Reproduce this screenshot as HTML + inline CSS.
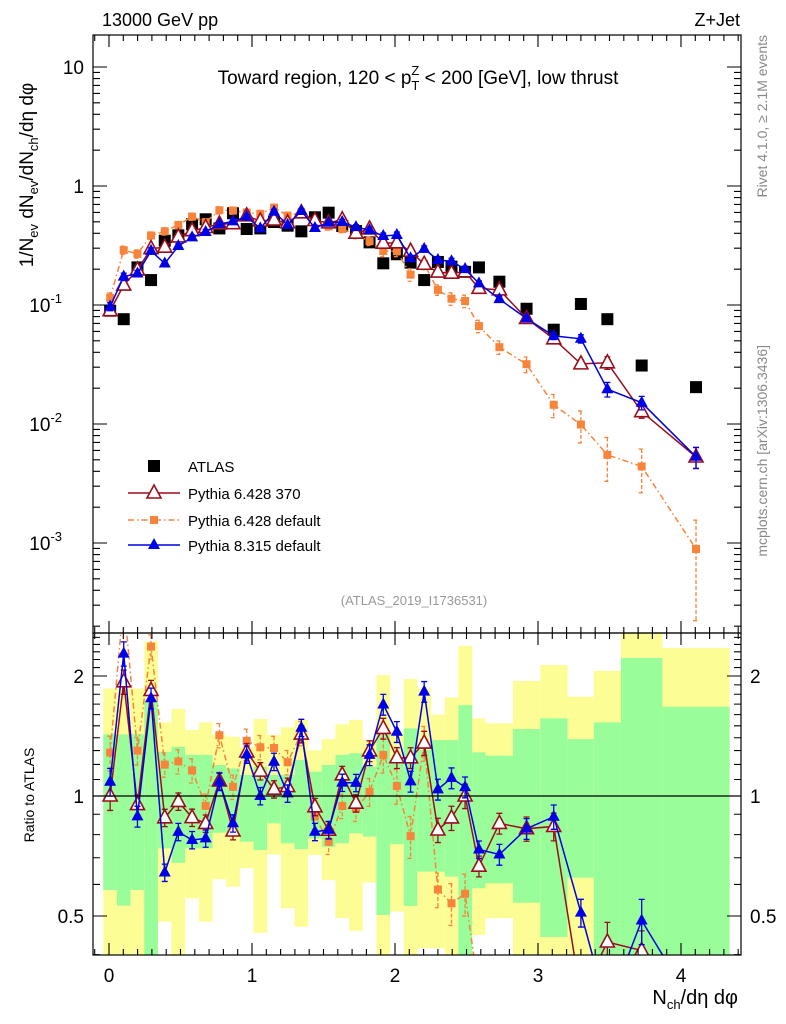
<!DOCTYPE html>
<html><head><meta charset="utf-8"><style>
html,body{margin:0;padding:0;background:#fff;width:786px;height:1024px;overflow:hidden;}
svg{display:block;font-family:"Liberation Sans",sans-serif;}
</style></head><body>
<svg id="chart" width="786" height="1024" viewBox="0 0 786 1024" xmlns="http://www.w3.org/2000/svg">
<defs>
<clipPath id="clipMain"><rect x="93" y="35" width="648" height="598"/></clipPath>
<clipPath id="clipRatio"><rect x="93" y="633" width="648" height="322"/></clipPath>
</defs>
<g id="bands" clip-path="url(#clipRatio)"></g>
<g id="ratioMarks" clip-path="url(#clipRatio)"></g>
<g id="mainMarks" clip-path="url(#clipMain)"></g>
<g id="axes"></g>
<rect x="93" y="35" width="648" height="598" fill="none" stroke="#000" stroke-width="1.2"/>
<rect x="93" y="633" width="648" height="322" fill="none" stroke="#000" stroke-width="1.2"/>
<line x1="93" x2="741" y1="796" y2="796" stroke="#000" stroke-width="1.2"/>
<text x="102" y="26" font-size="18">13000 GeV pp</text>
<text x="740" y="26" font-size="18" text-anchor="end">Z+Jet</text>
<text x="418" y="84" font-size="19" text-anchor="middle">Toward region, 120 &lt; p<tspan font-size="13" dy="6">T</tspan><tspan font-size="13" dx="-8" dy="-15">Z</tspan><tspan dy="9"> &lt; 200 [GeV], low thrust</tspan></text>
<text transform="translate(33,175) rotate(-90)" font-size="19" text-anchor="middle">1/N<tspan font-size="13" dy="5">ev</tspan><tspan dy="-5"> dN</tspan><tspan font-size="13" dy="5">ev</tspan><tspan dy="-5">/dN</tspan><tspan font-size="13" dy="5">ch</tspan><tspan dy="-5">/dη dφ</tspan></text>
<text transform="translate(34,795) rotate(-90)" font-size="14" text-anchor="middle">Ratio to ATLAS</text>
<text x="738" y="1004" font-size="20" text-anchor="end">N<tspan font-size="13" dy="5">ch</tspan><tspan dy="-5">/dη dφ</tspan></text>
<text transform="translate(767,35) rotate(-90)" font-size="14" fill="#888" text-anchor="end">Rivet 4.1.0, ≥ 2.1M events</text>
<text transform="translate(767,345) rotate(-90)" font-size="14" fill="#888" text-anchor="end">mcplots.cern.ch [arXiv:1306.3436]</text>
<text x="414" y="605" font-size="13" fill="#999" text-anchor="middle">(ATLAS_2019_I1736531)</text>
<g id="legend">
<rect x="148" y="460" width="12" height="12" fill="#000"/>
<text x="188" y="472" font-size="15">ATLAS</text>
<line x1="128" x2="180" y1="493" y2="493" stroke="#9b0d1e" stroke-width="1.5"/>
<polygon points="154,485 161,498 147,498" fill="#fff" stroke="#9b0d1e" stroke-width="1.6"/>
<text x="188" y="499" font-size="15">Pythia 6.428 370</text>
<line x1="128" x2="180" y1="520" y2="520" stroke="#f7843a" stroke-width="1.5" stroke-dasharray="6,3,1.5,3"/>
<rect x="150" y="516" width="8" height="8" fill="#f7843a"/>
<text x="188" y="526" font-size="15">Pythia 6.428 default</text>
<line x1="128" x2="180" y1="545" y2="545" stroke="#0000e6" stroke-width="1.5"/>
<polygon points="154,538 160,549 148,549" fill="#0000e6"/>
<text x="188" y="551" font-size="15">Pythia 8.315 default</text>
</g>
</svg>
<script>
const xCenters=[0.008,0.103,0.199,0.294,0.39,0.485,0.581,0.676,0.772,0.867,0.963,1.058,1.154,1.249,1.345,1.44,1.536,1.631,1.727,1.822,1.918,2.013,2.109,2.204,2.30,2.395,2.49,2.587,2.73,2.92,3.11,3.30,3.485,3.725,4.105];
const binEdges=[-0.04,0.0555,0.151,0.2465,0.342,0.4375,0.533,0.6285,0.724,0.8195,0.915,1.0105,1.106,1.2015,1.297,1.3925,1.488,1.5835,1.679,1.7745,1.87,1.9655,2.061,2.1565,2.252,2.3475,2.443,2.54,2.633,2.825,3.016,3.207,3.39,3.58,3.87,4.34];
const atlas=[0.0895,0.076,0.207,0.162,0.347,0.385,0.477,0.525,0.44,0.59,0.435,0.44,0.498,0.464,0.416,0.546,0.597,0.461,0.418,0.336,0.224,0.267,0.227,0.162,0.23,0.21,0.19,0.207,0.157,0.093,0.062,0.102,0.076,0.031,0.0204];
const p6_370=[0.0895,0.147,0.197,0.298,0.306,0.373,0.421,0.448,0.48,0.482,0.561,0.508,0.518,0.49,0.595,0.513,0.49,0.521,0.401,0.436,0.331,0.333,0.283,0.22,0.189,0.185,0.19,0.138,0.134,0.077,0.052,0.032,0.0327,0.0127,0.00528];
const p6_def=[0.115,0.289,0.269,0.384,0.416,0.47,0.553,0.496,0.625,0.622,0.598,0.583,0.657,0.564,0.598,0.485,0.458,0.435,0.388,0.344,0.284,0.283,0.18,0.22,0.134,0.113,0.108,0.0665,0.0442,0.0318,0.0145,0.0099,0.0055,0.0044,0.00089];
const p8_def=[0.0972,0.173,0.184,0.285,0.223,0.313,0.37,0.411,0.478,0.504,0.553,0.44,0.607,0.471,0.617,0.444,0.491,0.498,0.451,0.426,0.38,0.387,0.247,0.296,0.239,0.233,0.2,0.152,0.112,0.077,0.055,0.052,0.0196,0.0151,0.0053];
const err370=[0.08,0.07,0.06,0.06,0.05,0.05,0.05,0.05,0.05,0.05,0.05,0.05,0.05,0.05,0.05,0.05,0.05,0.05,0.05,0.06,0.06,0.06,0.06,0.07,0.07,0.07,0.07,0.06,0.06,0.07,0.08,0.08,0.12,0.12,0.2];
const errDef=[0.1,0.08,0.08,0.07,0.07,0.07,0.07,0.07,0.07,0.07,0.07,0.07,0.07,0.07,0.07,0.07,0.07,0.07,0.07,0.08,0.1,0.1,0.12,0.1,0.1,0.12,0.12,0.12,0.13,0.15,0.22,0.3,0.4,0.4,0.75];
const errP8=[0.08,0.07,0.06,0.06,0.05,0.05,0.05,0.05,0.05,0.05,0.05,0.05,0.05,0.05,0.05,0.05,0.05,0.05,0.05,0.06,0.06,0.06,0.06,0.06,0.06,0.06,0.06,0.05,0.06,0.06,0.07,0.08,0.14,0.13,0.2];
const bandYellowTop=[1.862,1.862,1.862,2.44,1.53,1.653,1.464,1.53,1.422,1.409,1.329,1.56,1.422,1.487,1.551,1.302,1.389,1.513,1.551,1.381,2.01,1.45,1.965,1.862,1.6,1.767,2.38,1.566,1.522,1.943,2.13,1.775,2.06,2.6,2.35];
const bandGreenTop=[1.428,1.428,1.428,1.724,1.291,1.329,1.268,1.268,1.196,1.173,1.129,1.184,1.129,1.129,1.231,1.151,1.196,1.268,1.28,1.184,1.428,1.231,1.478,1.304,1.381,1.381,1.69,1.287,1.262,1.472,1.566,1.389,1.53,2.22,1.675];
const bandGreenBot=[0.581,0.531,0.581,0.35,0.739,0.68,0.739,0.739,0.809,0.809,0.768,0.732,0.854,0.761,0.736,0.783,0.746,0.761,0.806,0.791,0.503,0.757,0.53,0.646,0.646,0.628,0.35,0.587,0.604,0.54,0.443,0.624,0.35,0.35,0.35];
const bandYellowBot=[0.35,0.35,0.35,0.35,0.484,0.35,0.554,0.484,0.618,0.592,0.659,0.454,0.714,0.523,0.47,0.711,0.615,0.494,0.459,0.607,0.35,0.513,0.35,0.415,0.415,0.35,0.35,0.448,0.494,0.35,0.35,0.35,0.35,0.35,0.35];
const xTickLabels=["0","1","2","3","4"];
const yTickLabels=["10","1","10","10","10"];
const yTickExps=[null,null,"-1","-2","-3"];
const ratioTickLabels=["2","1","0.5"];

const NS="http://www.w3.org/2000/svg";
function X(v){return 109+143*v;}
function Y(v){return 186-119*Math.log10(v);}
function R(r){return Math.max(600,Math.min(1010,796-120*Math.log2(r)));}
function mk(tag,attrs,parent){const e=document.createElementNS(NS,tag);for(const k in attrs)e.setAttribute(k,attrs[k]);parent.appendChild(e);return e;}

const bands=document.getElementById('bands');
for(let i=0;i<xCenters.length;i++){
  const x0=X(binEdges[i]),w=X(binEdges[i+1])-x0;
  const y=mk('rect',{x:x0,y:R(bandYellowTop[i]),width:w,height:R(bandYellowBot[i])-R(bandYellowTop[i]),fill:'#fdfd96'},bands);
  
  
  const g=mk('rect',{x:x0,y:R(bandGreenTop[i]),width:w,height:R(bandGreenBot[i])-R(bandGreenTop[i]),fill:'#99fd99'},bands);
  
  
}

function drawSeries(parent,vals,errs,style,yfn,ratio){
  const pts=[];
  for(let i=0;i<vals.length;i++){
    const v=ratio?vals[i]/atlas[i]:vals[i];
    pts.push([X(xCenters[i]),yfn(v),v]);
  }
  const pl=mk('polyline',{points:pts.map(p=>p[0]+','+p[1]).join(' '),fill:'none',stroke:style.c,'stroke-width':1.5},parent);
  if(style.dash)pl.setAttribute('stroke-dasharray',style.dash);
  
  
  for(let i=0;i<pts.length;i++){
    const [px,py,v]=pts[i];const e=errs[i];
    const y1=yfn(v*(1+e)),y2=yfn(Math.max(v*(1-e),1e-6));
    const eb=mk('path',{d:`M${px},${y1}V${y2}M${px-3},${y1}H${px+3}M${px-3},${y2}H${px+3}`,stroke:style.c,'stroke-width':1.3,fill:'none'},parent);
    if(style.dash)eb.setAttribute('stroke-dasharray','4,2');
    
    
    let m;
    if(style.m==='tri-open'){m=mk('polygon',{points:`${px},${py-8} ${px+7},${py+5} ${px-7},${py+5}`,fill:'#fff',stroke:style.c,'stroke-width':1.6},parent);}
    else if(style.m==='tri'){m=mk('polygon',{points:`${px},${py-7} ${px+6},${py+4} ${px-6},${py+4}`,fill:style.c},parent);}
    else {m=mk('rect',{x:px-4,y:py-4,width:8,height:8,fill:style.c},parent);}
    
    
  }
}
const sRed={c:'#9b0d1e',m:'tri-open',name:'pythia6-370'};
const sOr={c:'#f7843a',m:'sq',dash:'6,3,1.5,3',name:'pythia6-default'};
const sBl={c:'#0000e6',m:'tri',name:'pythia8-default'};

const main=document.getElementById('mainMarks');
for(let i=0;i<atlas.length;i++){
  const r=mk('rect',{x:X(xCenters[i])-6,y:Y(atlas[i])-6,width:12,height:12,fill:'#000'},main);
  
  
}
drawSeries(main,p6_def,errDef,sOr,Y,false);
drawSeries(main,p6_370,err370,sRed,Y,false);
drawSeries(main,p8_def,errP8,sBl,Y,false);
const rm=document.getElementById('ratioMarks');
drawSeries(rm,p6_def,errDef,sOr,R,true);
drawSeries(rm,p6_370,err370,sRed,R,true);
drawSeries(rm,p8_def,errP8,sBl,R,true);

const ax=document.getElementById('axes');
let d='';
for(let k=-1;k<=44;k++){
  const v=k/10;const x=X(v);if(x<93||x>741)continue;
  const L=(k%10===0)?12:6;
  d+=`M${x},633V${633-L}M${x},35V${35+L}M${x},955V${955-L}M${x},633V${633+L}`;
}
for(let e=-4;e<=1;e++){for(let m=1;m<=9;m++){
  const v=m*Math.pow(10,e);const y=Y(v);if(y<35||y>633)continue;
  const L=m===1?14:7;d+=`M93,${y}H${93+L}M741,${y}H${741-L}`;
}}
for(let k=4;k<=25;k++){
  const v=k/10;const y=R(v);if(y<633||y>955)continue;
  const L=(k===5||k===10||k===20)?14:7;d+=`M93,${y}H${93+L}M741,${y}H${741-L}`;
}
const tk=mk('path',{d:d,stroke:'#000','stroke-width':1.1,fill:'none'},ax);


for(let i=0;i<xTickLabels.length;i++){
  const t=mk('text',{x:X(i),y:982,'font-size':19,'text-anchor':'middle'},ax);t.textContent=xTickLabels[i];
  
  
}
for(let i=0;i<yTickLabels.length;i++){
  const y=Y(Math.pow(10,1-i));
  const t=mk('text',{x:yTickExps[i]?70:84,y:y+7,'font-size':19,'text-anchor':'end'},ax);t.textContent=yTickLabels[i];
  if(yTickExps[i]){const s=mk('tspan',{'font-size':13,dy:-9},t);s.textContent=yTickExps[i];t.setAttribute('x',62);}
  
  
}
const rv=[2,1,0.5];
for(let i=0;i<ratioTickLabels.length;i++){
  const y=R(rv[i])+7;
  const a=mk('text',{x:84,y:y,'font-size':19,'text-anchor':'end'},ax);a.textContent=ratioTickLabels[i];
  
  
  const b=mk('text',{x:750,y:y,'font-size':19},ax);b.textContent=ratioTickLabels[i];
  
  
}
</script>
</body></html>
